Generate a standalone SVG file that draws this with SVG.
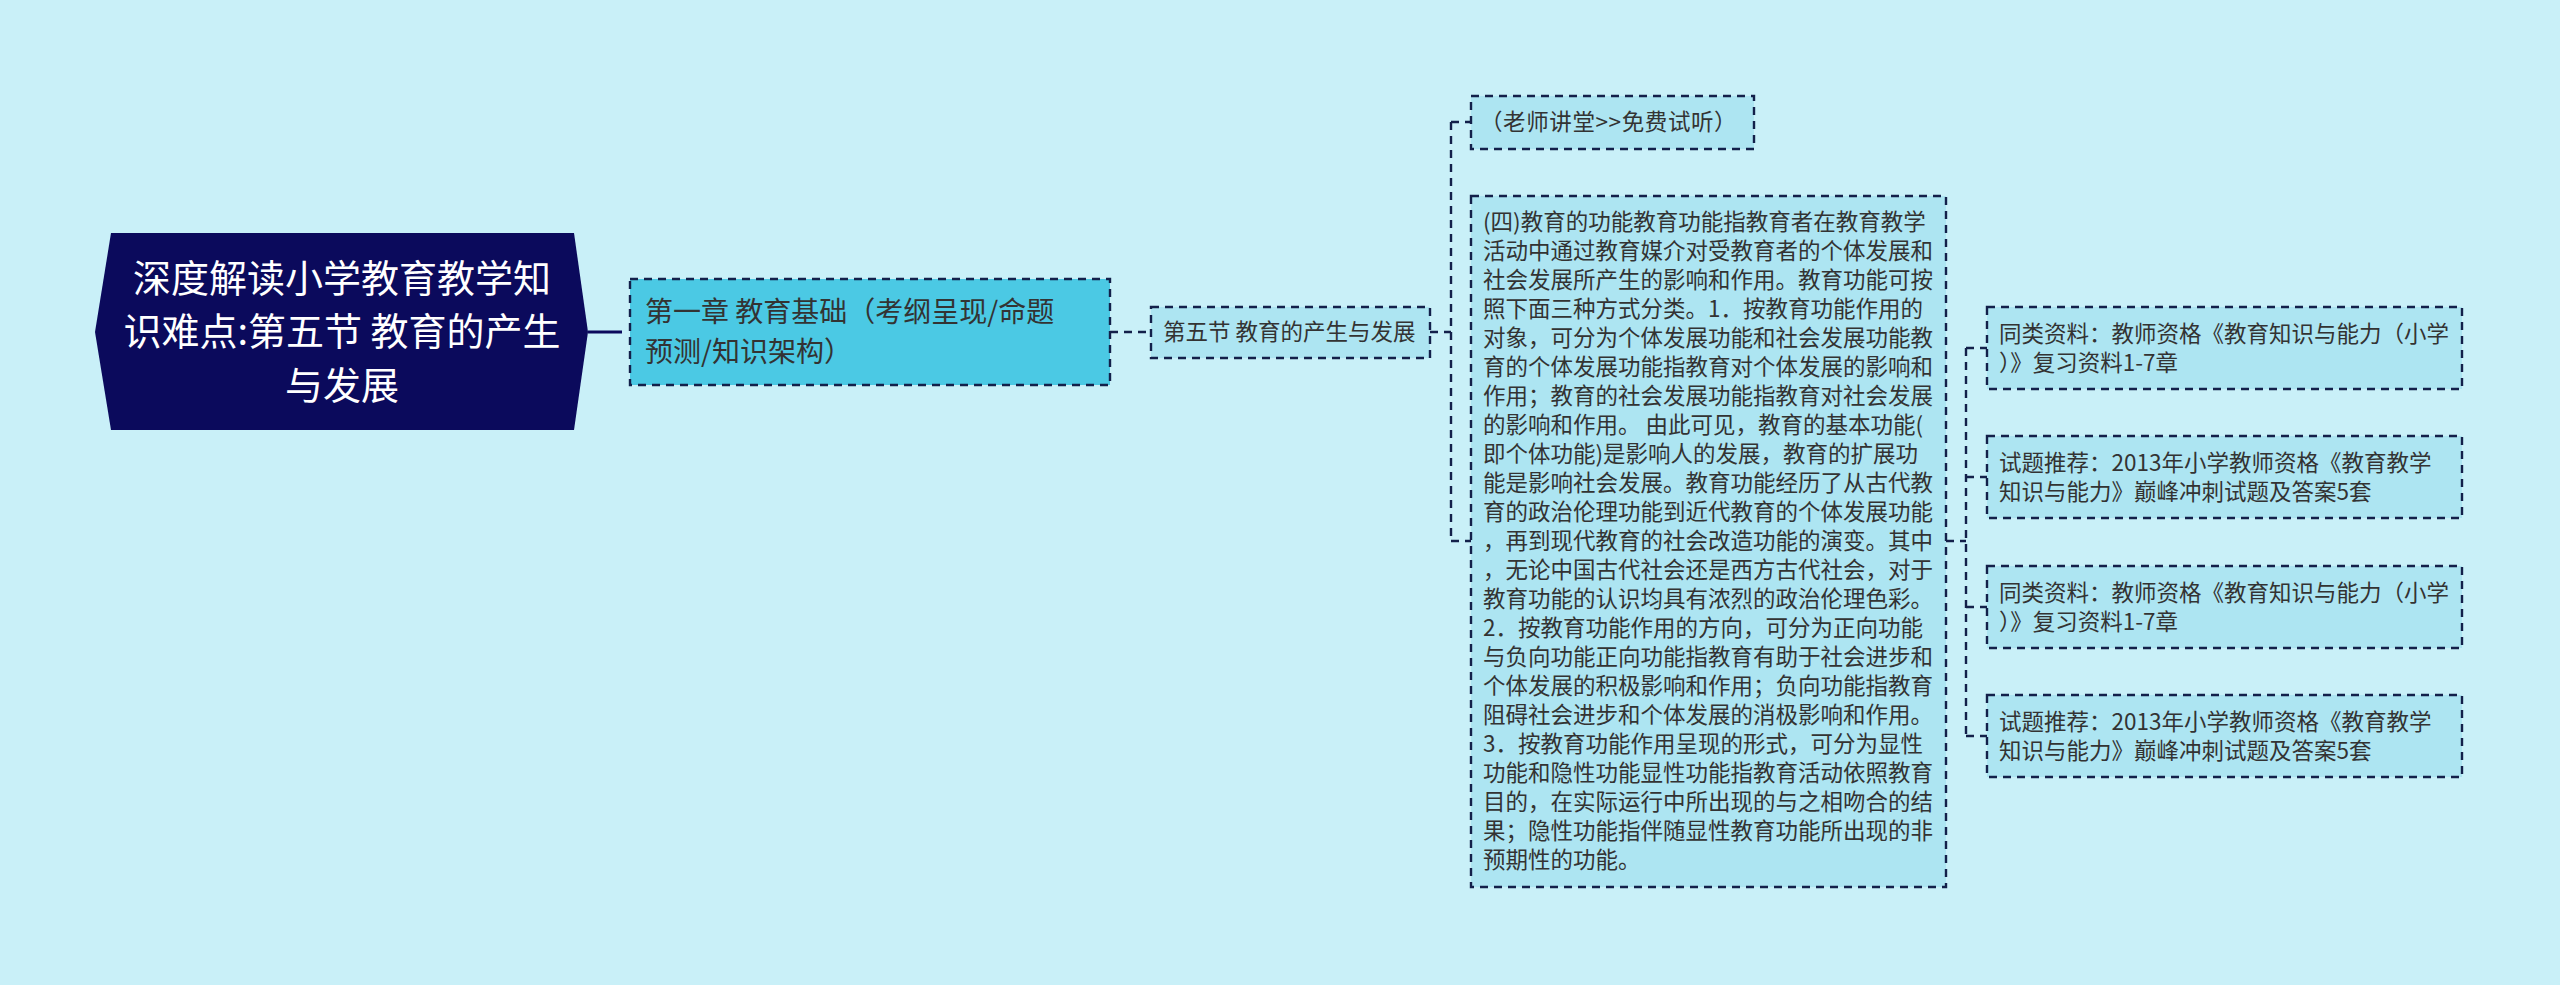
<svg xmlns="http://www.w3.org/2000/svg" width="2560" height="985" viewBox="0 0 2560 985">
<defs>
<style>
.t{font-family:"Noto Sans CJK SC","Noto Sans",sans-serif;fill:#333333;}
.box{fill:#ade5f2;stroke:#13204a;stroke-width:2.4;stroke-dasharray:8 6;}
.l1{fill:#4bc9e4;stroke:#13204a;stroke-width:2.4;stroke-dasharray:8 6;}
.c{fill:none;stroke:#13204a;stroke-width:2.4;stroke-dasharray:8 6;}
</style>
</defs>
<rect x="0" y="0" width="2560" height="985" fill="#c9f0f8"/>
<g id="connectors">
<path d="M588 332 H622" fill="none" stroke="#0b0a5c" stroke-width="3"/>
<path class="c" d="M1110 332 H1151"/>
<path class="c" d="M1430 332 H1451"/>
<path class="c" d="M1451 122 V541"/>
<path class="c" d="M1451 122 H1471"/>
<path class="c" d="M1451 541 H1471"/>
<path class="c" d="M1946 541 H1966"/>
<path class="c" d="M1966 348 V736"/>
<path class="c" d="M1966 348 H1987"/>
<path class="c" d="M1966 477 H1987"/>
<path class="c" d="M1966 607 H1987"/>
<path class="c" d="M1966 736 H1987"/>
</g>
<g id="root">
<polygon points="111,233 574,233 588,332 574,430 111,430 95,332" fill="#0b0a5c"/>
<text class="t" style="fill:#ffffff" font-size="38" text-anchor="middle"><tspan x="342" y="292">深度解读小学教育教学知</tspan><tspan x="342" y="345">识难点:第五节 教育的产生</tspan><tspan x="342" y="399">与发展</tspan></text>
</g>
<g id="n1">
<rect class="l1" x="630" y="279" width="480" height="106"/>
<text class="t" font-size="28"><tspan x="645" y="322">第一章 教育基础（考纲呈现/命题</tspan><tspan x="645" y="362">预测/知识架构）</tspan></text>
</g>
<g id="n2">
<rect class="box" x="1151" y="307" width="279" height="51"/>
<text class="t" font-size="22.5" x="1163" y="340">第五节 教育的产生与发展</text>
</g>
<g id="n3">
<rect class="box" x="1471" y="96" width="283" height="53"/>
<text class="t" font-size="22.5" x="1480" y="130" letter-spacing="0.6">（老师讲堂&gt;&gt;免费试听）</text>
</g>
<g id="n4">
<rect class="box" x="1471" y="196" width="475" height="691"/>
<text class="t" font-size="22.5">
<tspan x="1483" y="230">(四)教育的功能教育功能指教育者在教育教学</tspan>
<tspan x="1483" y="259">活动中通过教育媒介对受教育者的个体发展和</tspan>
<tspan x="1483" y="288">社会发展所产生的影响和作用。教育功能可按</tspan>
<tspan x="1483" y="317">照下面三种方式分类。1．按教育功能作用的</tspan>
<tspan x="1483" y="346">对象，可分为个体发展功能和社会发展功能教</tspan>
<tspan x="1483" y="375">育的个体发展功能指教育对个体发展的影响和</tspan>
<tspan x="1483" y="404">作用；教育的社会发展功能指教育对社会发展</tspan>
<tspan x="1483" y="433">的影响和作用。 由此可见，教育的基本功能(</tspan>
<tspan x="1483" y="462">即个体功能)是影响人的发展，教育的扩展功</tspan>
<tspan x="1483" y="491">能是影响社会发展。教育功能经历了从古代教</tspan>
<tspan x="1483" y="520">育的政治伦理功能到近代教育的个体发展功能</tspan>
<tspan x="1483" y="549">，再到现代教育的社会改造功能的演变。其中</tspan>
<tspan x="1483" y="578">，无论中国古代社会还是西方古代社会，对于</tspan>
<tspan x="1483" y="607">教育功能的认识均具有浓烈的政治伦理色彩。</tspan>
<tspan x="1483" y="636">2．按教育功能作用的方向，可分为正向功能</tspan>
<tspan x="1483" y="665">与负向功能正向功能指教育有助于社会进步和</tspan>
<tspan x="1483" y="694">个体发展的积极影响和作用；负向功能指教育</tspan>
<tspan x="1483" y="723">阻碍社会进步和个体发展的消极影响和作用。</tspan>
<tspan x="1483" y="752">3．按教育功能作用呈现的形式，可分为显性</tspan>
<tspan x="1483" y="781">功能和隐性功能显性功能指教育活动依照教育</tspan>
<tspan x="1483" y="810">目的，在实际运行中所出现的与之相吻合的结</tspan>
<tspan x="1483" y="839">果；隐性功能指伴随显性教育功能所出现的非</tspan>
<tspan x="1483" y="868">预期性的功能。</tspan>
</text>
</g>
<g id="n5">
<rect class="box" x="1987" y="307" width="475" height="82"/>
<text class="t" font-size="22.5"><tspan x="1999" y="342">同类资料：教师资格《教育知识与能力（小学</tspan><tspan x="1999" y="371">）》复习资料1-7章</tspan></text>
</g>
<g id="n6">
<rect class="box" x="1987" y="436" width="475" height="82"/>
<text class="t" font-size="22.5"><tspan x="1999" y="471">试题推荐：2013年小学教师资格《教育教学</tspan><tspan x="1999" y="500">知识与能力》巅峰冲刺试题及答案5套</tspan></text>
</g>
<g id="n7">
<rect class="box" x="1987" y="566" width="475" height="82"/>
<text class="t" font-size="22.5"><tspan x="1999" y="601">同类资料：教师资格《教育知识与能力（小学</tspan><tspan x="1999" y="630">）》复习资料1-7章</tspan></text>
</g>
<g id="n8">
<rect class="box" x="1987" y="695" width="475" height="82"/>
<text class="t" font-size="22.5"><tspan x="1999" y="730">试题推荐：2013年小学教师资格《教育教学</tspan><tspan x="1999" y="759">知识与能力》巅峰冲刺试题及答案5套</tspan></text>
</g>
</svg>
